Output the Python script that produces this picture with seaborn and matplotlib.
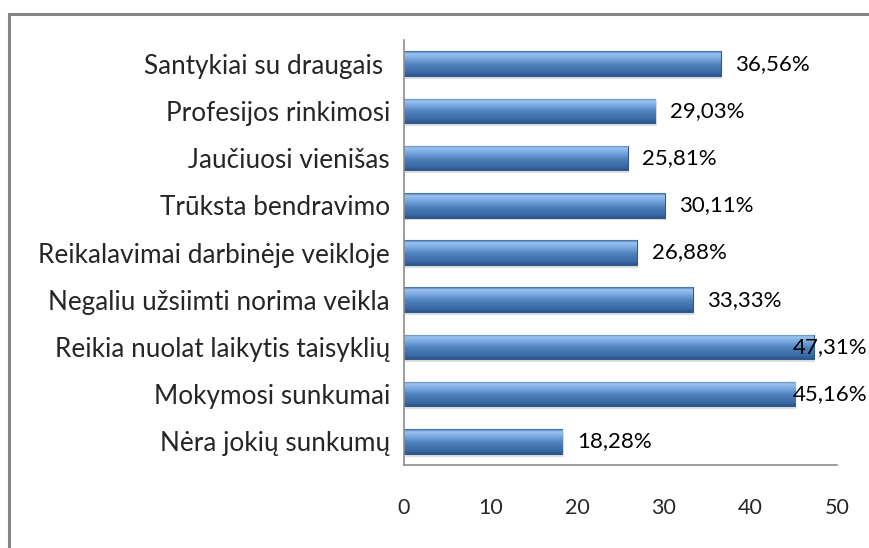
import matplotlib
matplotlib.use("Agg")
import matplotlib.pyplot as plt
import seaborn as sns
import numpy as np
from matplotlib.colors import LinearSegmentedColormap
from matplotlib.patches import Rectangle

categories = [
    "Santykiai su draugais ",
    "Profesijos rinkimosi",
    "Jaučiuosi vienišas",
    "Trūksta bendravimo",
    "Reikalavimai darbinėje veikloje",
    "Negaliu užsiimti norima veikla",
    "Reikia nuolat laikytis taisyklių",
    "Mokymosi sunkumai",
    "Nėra jokių sunkumų",
]
values = [36.56, 29.03, 25.81, 30.11, 26.88, 33.33, 47.31, 45.16, 18.28]
labels = ["36,56%", "29,03%", "25,81%", "30,11%", "26,88%",
          "33,33%", "47,31%", "45,16%", "18,28%"]
xticks = [0, 10, 20, 30, 40, 50]

sns.set_style("white")
plt.rcParams["font.family"] = ["Lato", "DejaVu Sans"]

fig = plt.figure(figsize=(8.7, 5.48), dpi=100)
ax = fig.add_axes([404 / 870, 1 - 465 / 548, 433 / 870, 425 / 548])

sns.barplot(x=values, y=categories, orient="h", color="#4f81bd",
            width=0.52, ax=ax, edgecolor="#2f5a8f", linewidth=0.8)

# cylinder-like gradient on every bar
grad = LinearSegmentedColormap.from_list("bar", [
    (0.0, "#3d6ca8"), (0.1, "#9cc3f0"), (0.3, "#78a7df"),
    (0.55, "#4f81bd"), (0.85, "#3c6ba6"), (1.0, "#2b548a")])
col = np.linspace(0, 1, 64).reshape(-1, 1)
for p in ax.patches:
    x0, y0, w, h = p.get_x(), p.get_y(), p.get_width(), p.get_height()
    # soft shadow
    ax.add_patch(Rectangle((x0 + 0.15, y0 + 0.06), w, h, color="#000000",
                           alpha=0.12, zorder=p.get_zorder() - 0.1, lw=0))
    im = ax.imshow(col, cmap=grad, extent=(x0, x0 + w, y0 + h, y0),
                   origin="upper", aspect="auto", zorder=p.get_zorder() + 0.1)
    im.set_clip_path(p)

ax.set_xlim(0, 50)
ax.set_ylim(8.5, -0.5)
ax.set_xticks(xticks)
ax.set_xticklabels([str(t) for t in xticks])
ax.tick_params(axis="x", length=0, pad=24, labelsize=15.5)
ax.tick_params(axis="y", length=0, pad=10, labelsize=18.8)
ax.set_xlabel("")
ax.set_ylabel("")

for i, (v, lab) in enumerate(zip(values, labels)):
    ax.text(min(v + 1.7, 44.9), i, lab, va="center", ha="left",
            fontsize=16, color="black", zorder=10, clip_on=False)

for s in ["top", "right"]:
    ax.spines[s].set_visible(False)
for s in ["left", "bottom"]:
    ax.spines[s].set_color("#8c8c8c")
    ax.spines[s].set_linewidth(1.2)

# outer chart border
fig.patches.append(Rectangle((9 / 870, -0.1), 1.2, 1 - 14 / 548 + 0.1,
                             transform=fig.transFigure, fill=False,
                             edgecolor="#858585", linewidth=2.2))

fig.savefig("out.png", dpi=100)
